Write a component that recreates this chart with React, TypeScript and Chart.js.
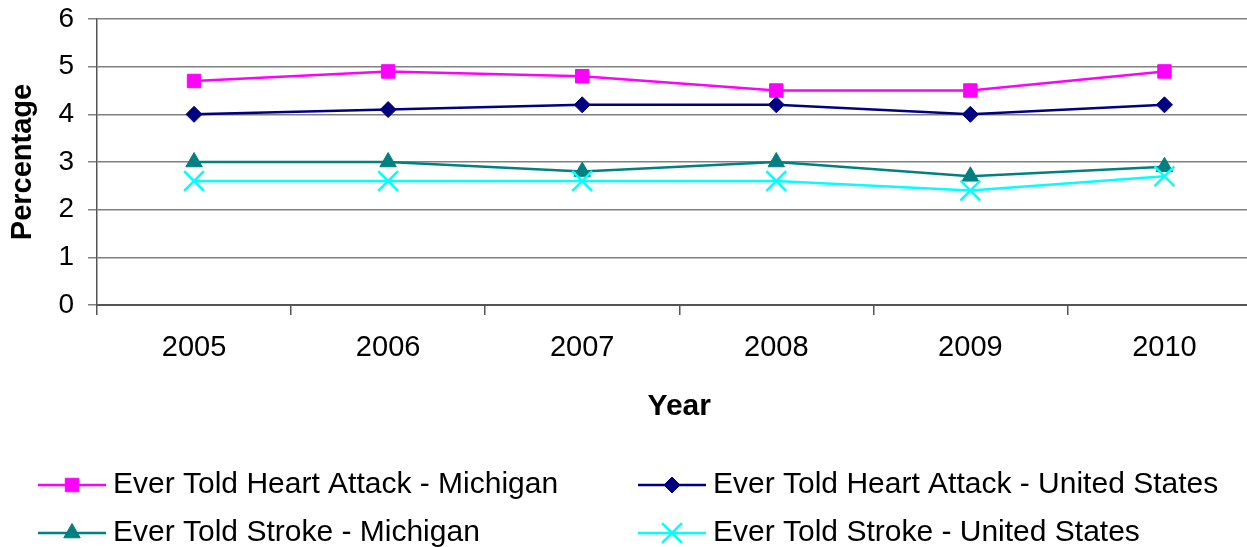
import React, { useEffect, useRef } from "react";
import { Chart, registerables } from "chart.js";
import { drawPoint } from "chart.js/helpers";

Chart.register(...registerables);

const years = ["2005", "2006", "2007", "2008", "2009", "2010"];
const heartAttackMichigan = [4.7, 4.9, 4.8, 4.5, 4.5, 4.9];
const heartAttackUS = [4.0, 4.1, 4.2, 4.2, 4.0, 4.2];
const strokeMichigan = [3.0, 3.0, 2.8, 3.0, 2.7, 2.9];
const strokeUS = [2.6, 2.6, 2.6, 2.6, 2.4, 2.7];
const seriesNames = [
  "Ever Told Heart Attack - Michigan",
  "Ever Told Heart Attack - United States",
  "Ever Told Stroke - Michigan",
  "Ever Told Stroke - United States",
];
const yTicks = [0, 1, 2, 3, 4, 5, 6];

const FONT = "'Liberation Sans', Arial, Helvetica, sans-serif";

const legendPlugin = {
  id: "twoColLegend",
  afterDraw(chart: any) {
    const ctx = chart.ctx;
    const colX = [38, 638];
    const rowY = [485, 533];
    chart.data.datasets.forEach((ds: any, i: number) => {
      const x0 = colX[i % 2];
      const y = rowY[Math.floor(i / 2)];
      ctx.save();
      ctx.strokeStyle = ds.borderColor;
      ctx.lineWidth = 2.5;
      ctx.beginPath();
      ctx.moveTo(x0, y);
      ctx.lineTo(x0 + 68, y);
      ctx.stroke();
      ctx.fillStyle = ds.pointBackgroundColor;
      ctx.strokeStyle = ds.pointBorderColor;
      ctx.lineWidth = ds.pointBorderWidth;
      drawPoint(ctx, { pointStyle: ds.pointStyle, radius: ds.pointRadius, rotation: 0, borderWidth: ds.pointBorderWidth }, x0 + 34, y);
      ctx.fillStyle = "#000";
      ctx.font = `30px ${FONT}`;
      ctx.textBaseline = "middle";
      ctx.textAlign = "left";
      ctx.fillText(ds.label, x0 + 75, y);
      ctx.restore();
    });
  },
};

export default function App() {
  const ref = useRef<HTMLCanvasElement | null>(null);

  useEffect(() => {
    if (!ref.current) return;
    Chart.defaults.font.family = FONT;
    const mk = (label: string, data: number[], color: string, style: string, radius: number, bw: number, order: number) => ({
      label,
      data,
      borderColor: color,
      backgroundColor: color,
      borderWidth: 2.5,
      pointStyle: style,
      pointRadius: radius,
      pointBackgroundColor: color,
      pointBorderColor: color,
      pointBorderWidth: bw,
      tension: 0,
      order,
    });
    const chart = new Chart(ref.current, {
      type: "line",
      data: {
        labels: years,
        datasets: [
          mk(seriesNames[0], heartAttackMichigan, "#FF00FF", "rect", 9.5, 1, 3),
          mk(seriesNames[1], heartAttackUS, "#000080", "rectRot", 8, 1, 2),
          mk(seriesNames[2], strokeMichigan, "#008080", "triangle", 9.5, 1, 1),
          mk(seriesNames[3], strokeUS, "#00FFFF", "crossRot", 14, 2.5, 0),
        ] as any,
      },
      options: {
        responsive: false,
        animation: false,
        events: [],
        layout: { padding: { left: 0, top: 19, right: 3, bottom: 122 } },
        plugins: {
          legend: { display: false },
          tooltip: { enabled: false },
          title: { display: false },
        },
        scales: {
          x: {
            offset: true,
            ticks: { font: { size: 29 }, color: "#000", padding: 16, maxRotation: 0, autoSkip: false },
            grid: { drawOnChartArea: false, offset: true, tickLength: 10, color: "#555", lineWidth: 1.5 },
            border: { color: "#555", width: 2 },
            title: { display: true, text: "Year", font: { size: 30, weight: "bold" }, color: "#000", padding: { top: 11, bottom: 0 } },
            afterFit: (s: any) => {
              s.height = 120;
              s.paddingLeft = 0;
              s.paddingRight = 0;
            },
          },
          y: {
            min: 0,
            max: 6,
            afterBuildTicks: (s: any) => {
              s.ticks = yTicks.map((v) => ({ value: v }));
            },
            ticks: { font: { size: 28 }, color: "#000", padding: 14 },
            grid: { color: "#808080", lineWidth: 1.5, tickLength: 9 },
            border: { color: "#555", width: 1.5 },
            title: { display: true, text: "Percentage", font: { size: 29, weight: "bold" }, color: "#000", padding: { top: 6, bottom: 0 } },
            afterFit: (s: any) => {
              s.width = 97;
              s.paddingTop = 0;
              s.paddingBottom = 0;
            },
          },
        },
      } as any,
      plugins: [legendPlugin],
    });
    return () => chart.destroy();
  }, []);

  return (
    <div style={{ position: "fixed", left: 0, top: 0, width: 1247, height: 547, overflow: "hidden", background: "#fff" }}>
      <canvas ref={ref} width={1278} height={547} style={{ display: "block" }} />
    </div>
  );
}
